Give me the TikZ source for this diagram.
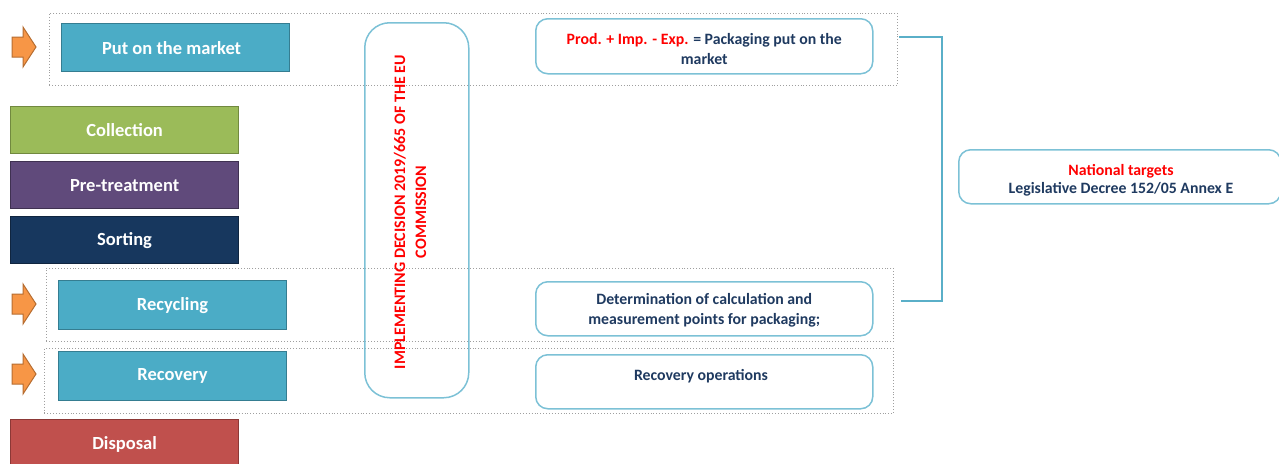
\documentclass[tikz,border=0pt]{standalone}
\usepackage{fontspec}
\setmainfont{Carlito}
\definecolor{tealf}{HTML}{4BACC6}
\definecolor{teald}{HTML}{357D91}
\definecolor{greenf}{HTML}{9BBB59}
\definecolor{greend}{HTML}{71893F}
\definecolor{purplef}{HTML}{604A7B}
\definecolor{purpled}{HTML}{3F3151}
\definecolor{navyf}{HTML}{17375E}
\definecolor{navyd}{HTML}{10253F}
\definecolor{redf}{HTML}{C0504D}
\definecolor{redd}{HTML}{8C3836}
\definecolor{orangef}{HTML}{F79646}
\definecolor{oranged}{HTML}{B66D31}
\definecolor{infoc}{HTML}{7CC1D6}
\definecolor{navytext}{HTML}{1F3A60}
\definecolor{brightred}{HTML}{FF0000}
\definecolor{bracketc}{HTML}{5AAFC8}
\begin{document}
\begin{tikzpicture}[x=1pt,y=-1pt,
  stage/.style={draw, line width=1.2pt, inner sep=0pt, anchor=north west,
    minimum width=228pt, minimum height=48pt, text=white,
    font=\bfseries\fontsize{18.5}{21}\selectfont},
  info/.style={draw=infoc, line width=1.5pt, rounded corners=12pt, anchor=north west,
    minimum width=337pt, minimum height=54pt, inner sep=0pt},
  infotext/.style={text=navytext, font=\bfseries\fontsize{15.8}{20}\selectfont, align=center},
  groupbox/.style={draw=gray!75, dotted, line width=0.9pt, anchor=north west, inner sep=0pt},
  arr/.style={fill=orangef, draw=oranged, line width=1pt, line join=miter},
  orarrow/.pic={\draw[arr] (-12,-10) -- (-1,-10) -- (-1,-20) -- (12,0) -- (-1,20) -- (-1,10) -- (-12,10) -- cycle;},
  bracket/.style={draw=bracketc, line width=1.5pt}
]
\useasboundingbox (0,0) rectangle (1279,463);

% dotted groups
\node[groupbox, minimum width=848pt, minimum height=72pt] (g1) at (49,13) {};
\node[groupbox, minimum width=847pt, minimum height=73pt] (g2) at (46,268) {};
\node[groupbox, minimum width=849pt, minimum height=65pt] (g3) at (44,348) {};

% arrows
\pic at (24,47) {orarrow};
\pic at (24,304) {orarrow};
\pic at (24,374) {orarrow};

% stages
\node[stage, fill=tealf, draw=teald] (market) at (61,23) {Put on the market\hspace*{8pt}};
\node[stage, fill=greenf, draw=greend, minimum height=47pt] (coll) at (10,106) {Collection};
\node[stage, fill=purplef, draw=purpled, minimum height=47pt] (pret) at (10,161) {Pre-treatment};
\node[stage, fill=navyf, draw=navyd, minimum height=47pt] (sort) at (10,216) {Sorting};
\node[stage, fill=tealf, draw=teald, minimum height=49pt] (recyc) at (58,280) {Recycling};
\node[stage, fill=tealf, draw=teald, minimum height=49pt] (recov) at (58,351) {Recovery};
\node[stage, fill=redf, draw=redd, minimum height=50pt] (disp) at (10,419) {Disposal};

% vertical decision box
\node[draw=infoc, line width=1.5pt, rounded corners=25pt, anchor=north west,
  minimum width=104pt, minimum height=375pt, inner sep=0pt] (dec) at (364,22) {};
\node[rotate=90, text=brightred, align=center, font=\bfseries\fontsize{16}{21}\selectfont]
  (dectext) at (410,212) {IMPLEMENTING DECISION 2019/665 OF THE EU\\COMMISSION};

% info boxes
\node[info, minimum height=55pt] (prod) at (535,18) {};
\node[infotext] (prodtext) at ([yshift=-3pt]prod.center) {\textcolor{brightred}{Prod. + Imp. - Exp.} = Packaging put on the\\market};
\node[info] (det) at (535,281) {};
\node[infotext] (dettext) at ([yshift=-2pt]det.center) {Determination of calculation and\\measurement points for packaging;};
\node[info] (ops) at (535,354) {};
\node[infotext] (opstext) at (701,376) {Recovery operations};
\node[info, minimum width=322pt] (nat) at (958,149) {};
\node[infotext, font=\bfseries\fontsize{15.8}{18}\selectfont] (nattext) at (1121,180) {\textcolor{brightred}{National targets}\\Legislative Decree 152/05 Annex E};

% bracket
\coordinate (b1) at (899,37);
\coordinate (b2) at (901,301);
\coordinate (c1) at (942,37);
\coordinate (c2) at (942,301);
\draw[bracket] (b1) -- (c1) -- (c2) -- (b2);
\end{tikzpicture}
\end{document}
